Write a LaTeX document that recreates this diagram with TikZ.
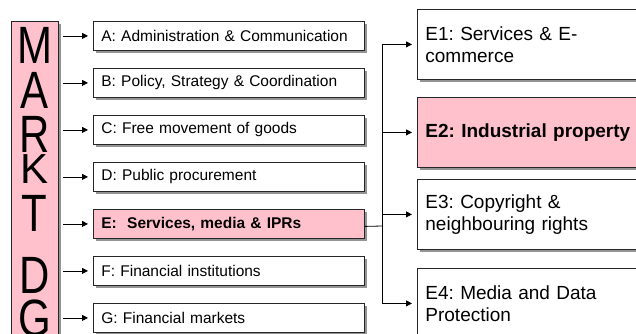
\documentclass[tikz,border=0pt]{standalone}
\usepackage{fontspec}
\setmainfont{Liberation Sans}
\usetikzlibrary{shadows,arrows.meta}
\definecolor{dgpink}{RGB}{255,193,204}
\frenchspacing

\begin{document}
\begin{tikzpicture}[x=1pt,y=-1pt]
\tikzset{dgbox/.style={draw=black!85, line width=0.8pt, fill=white, anchor=north west,
    drop shadow={shadow xshift=3pt, shadow yshift=-3pt, fill=black!42, opacity=1},
    inner xsep=8pt, align=left},
  unit/.style={dgbox, minimum width=271pt, minimum height=29pt, text width=255pt,
    font=\fontsize{15.5}{18}\selectfont},
  sub/.style={dgbox, minimum height=70pt, text width=222pt,
    font=\fontsize{19}{22}\selectfont},
  arr/.style={-{Triangle[length=6pt,width=6pt]}, line width=0.8pt, shorten >=5pt}}
\useasboundingbox (0,0) rectangle (636,333);
\clip (0,0) rectangle (636,333);
% the DG bar
\node[dgbox, fill=dgpink, minimum width=47pt, minimum height=330pt, inner sep=0pt] (DG) at (11,21) {};
\foreach \l/\y/\s in {M/63/1.25, A/108/1.25, R/152/1.25, K/183/1, T/231/1.25, D/293/1.25, G/336/1.25}
  \node[anchor=base, inner sep=0pt, font=\fontsize{42}{42}\selectfont] (L\l) at (34.5,\y) {\scalebox{1}[\s]{\l}};
% units
\node[unit] (A) at (93,21) {A: Administration \& Communication};
\node[unit] (B) at (93,68) {B: Policy, Strategy \& Coordination};
\node[unit] (C) at (93,115) {C: Free movement of goods};
\node[unit] (D) at (93,162) {D: Public procurement};
\node[unit, fill=dgpink, font=\fontsize{15.5}{18}\selectfont\bfseries] (E) at (93,209) {E:\ \ Services, media \& IPRs};
\node[unit] (F) at (93,256) {F: Financial institutions};
\node[unit] (G) at (93,303) {G: Financial markets};
% E units
\node[sub] (E1) at (417,9) {E1: Services \& E-\\commerce};
\node[sub, fill=dgpink, font=\fontsize{19}{22}\selectfont\bfseries] (E2) at (417,97) {E2: Industrial property};
\node[sub] (E3) at (417,179) {E3: Copyright \&\\neighbouring rights};
\node[sub] (E4) at (417,268) {E4: Media and Data\\Protection};
% arrows from the bar
\foreach \n in {A,B,C,D,E,F,G}
  \draw[arr, shorten <=4pt] (DG.east |- \n.west) -- (\n.west);
% arrows from E
\coordinate (split) at (382,226);
\draw[line width=0.8pt] ([yshift=-2.5pt]E.east) -- (split);
\draw[line width=0.8pt] (split |- E1.west) -- (split |- E4.west);
\foreach \n in {E1,E2,E3,E4}
  \draw[arr] (split |- \n.west) -- (\n.west);
\end{tikzpicture}
\end{document}
